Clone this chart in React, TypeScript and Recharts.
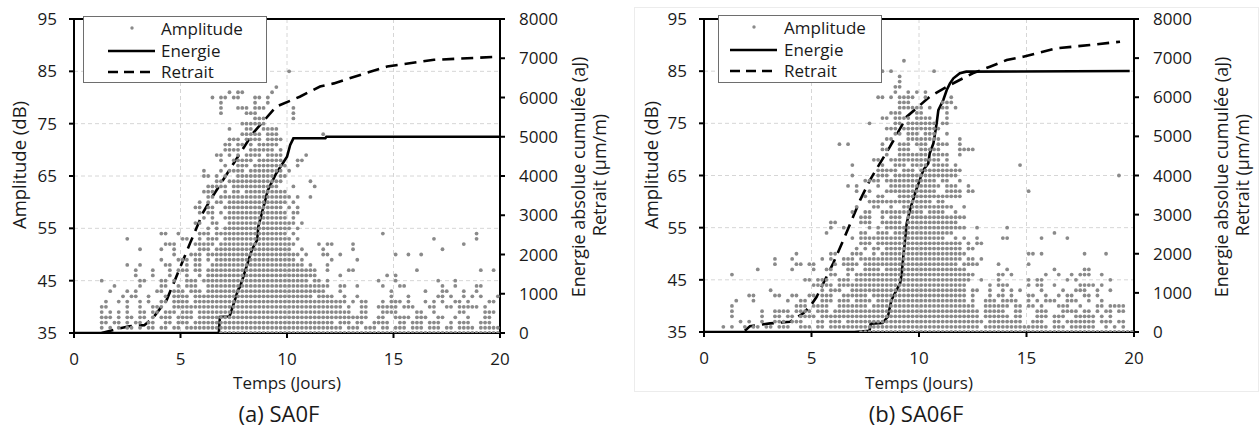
import React from "react";
import {
  ComposedChart,
  Scatter,
  Line,
  XAxis,
  YAxis,
  CartesianGrid,
  ReferenceLine,
} from "recharts";

const dayTicks = [0, 5, 10, 15, 20];
const ampTicks = [35, 45, 55, 65, 75, 85, 95];
const energyTicks = [0, 1000, 2000, 3000, 4000, 5000, 6000, 7000, 8000];

// amplitude hits, one row per dB level; columns are 0.2 day wide (col c -> t = 0.2c + 0.1)
const sa0fHits: [number, string][] = [
  [35, "34-99"],
  [36, "6 8 10 12-13 15 17-18 20-21 23-24 26-62 64-66 68-70 72-73 75-77 79-81 83-85 87-88 90-93 95-99"],
  [37, "6-7 9-10 12 14-15 17-18 21-22 24-26 28-60 62-64 66-67 70-73 76-77 79-81 83-85 88 90-92 95-97"],
  [38, "6-8 10 12-13 15-16 18 20-22 24-27 29-68 71-72 75-78 80-82 85-86 89 92 96-97"],
  [39, "6 8 10 12 15-16 18-19 21-23 25-27 29-64 67-68 72-75 80-81 84 90-91 96-98"],
  [40, "6-7 12 15 18-20 23-62 64 67-68 71-75 77-79 83-84 87-88 90-94 96"],
  [41, "7 10 12 15 17 20-21 23-26 28-63 65 67-68 72 74-76 78 82 84 86 89-90 92 97-98"],
  [42, "11 13-14 17 21 23-26 28-55 57-60 63 66 74 78 85-86 88 91 93 95 99"],
  [43, "8 12 14 19-20 23-25 27-29 31-58 62 74 82 86-87 91 94"],
  [44, "9 15 20-21 24 26-28 31-59 62-63 66 72 76-77 86 89 94-95"],
  [45, "6 15-16 20-21 23 26-28 30-54 56-57 59 71 75 85 89"],
  [46, "14 18 22 26 29 31-56 62 73 75"],
  [47, "14 18 22 24-26 28-29 31-56 59 64-65 80 95 98"],
  [48, "12 15 21-22 26 28-29 32-53 55 59"],
  [49, "20 24-26 28-29 31 33-51 53 60 66"],
  [50, "23 27-29 31-52 54 58-59 62 75 78 81"],
  [51, "15 20 23 29-31 33-50 53 58 65 86"],
  [52, "21-23 28-32 34-51 57 59-60 65 91"],
  [53, "12 25-26 29 31-33 35-50 52 84 94"],
  [54, "20-21 24 29-31 33-49 51 72 94"],
  [55, "31 33 35-50 52"],
  [56, "28-29 32-33 36-51 53"],
  [57, "30 32 35-49 51"],
  [58, "29 31-32 34 36-49 51-52"],
  [59, "28-29 31-32 35-48 50 52"],
  [60, "29 31 33-34 36-49 51"],
  [61, "31-32 34-50 52 55"],
  [62, "30-32 35 37-38 40-49"],
  [63, "31-35 37-47 51 56"],
  [64, "33-34 36-48 55"],
  [65, "30-31 33 35 38-46 48-49"],
  [66, "30 34 36-39 41-48 50"],
  [67, "35 38-40 42-49 52"],
  [68, "34 37-41 43-48 52-53"],
  [69, "33-34 36 38 40-43 45-48 54"],
  [70, "35-38 41-46 48"],
  [71, "35-36 38-39 41 43-47"],
  [72, "36-38 40-43 45-48"],
  [73, "39-43 45-47 58"],
  [74, "36 40-41 44-47"],
  [75, "39-44"],
  [76, "42-44 51"],
  [77, "34 40-42 51"],
  [78, "34 38-40 42-44 51"],
  [79, "34 42 45"],
  [80, "32 34-35 37-38 42-43 45"],
  [81, "36 38-39 46"],
  [82, "47"],
  [85, "50"],
];

const sa06fHits: [number, string][] = [
  [35, "36-99"],
  [36, "4 6 9 11-12 14-15 17-19 22-24 26-27 29-63 65-79 81-83 85-90 93 95 97"],
  [37, "8 10 13 16-18 20-22 26-27 29-31 33-64 66-71 72-73 76-78 81-82 84-90 92-94 96-97"],
  [38, "6 13 16-17 19-20 22-25 27-63 65-70 72-73 77-79 81-83 86-90 92 94"],
  [39, "6 13 16-19 21-24 26-28 30-63 65-69 72-73 77-79 83-86 88-89 91 93-94 96-97"],
  [40, "6 21-23 25-28 31-37 39-62 65-70 72-73 75-76 78 82-84 87 91-92 94-97"],
  [41, "7 11 19 22-23 27-29 31-33 35-38 40-60 62 65-67 69-72 75 77 79-81 84-86 89 92"],
  [42, "10-11 16-17 20-21 24-25 27-29 32-37 39-60 62 66 68-69 71 75-76 79 82 84-85 88-89 91"],
  [43, "15 27 29-31 34-60 62-63 66 69 71 73 78 83 86-88 91 94"],
  [44, "25-29 31-60 66 68-70 75 77-78 81 87-90 92"],
  [45, "23-24 26-28 31-33 35-61 64 68 75 77-78 84 86 94"],
  [46, "6 29-30 33 35-62 68-69 71 79 82 85 87-89 92"],
  [47, "12 20 25 28-29 33-34 37-40 42-60 70 81 88-89"],
  [48, "16 21-22 24-25 30 32-35 37-58 60-63 68 75"],
  [49, "16 20 27 29 32-34 36-59 61-62 64"],
  [50, "21 29-30 34-36 39 41-60 75-76 78 88 93"],
  [51, "35 37 39-40 42-59 61-62"],
  [52, "36-38 40-59 61 63-64"],
  [53, "34 36-55 58 60 63 69-70 78 84"],
  [54, "28 36-37 40-42 44-57 81"],
  [55, "29 32 38 40 42-60 63 70"],
  [56, "29-30 36-38 41-45 47-58"],
  [57, "36-38 41 43-45 47-60"],
  [58, "34 37-38 41-50 52-55 58"],
  [59, "35 39-40 43 46-57 60"],
  [60, "38-52 54-55"],
  [61, "37 40-41 45-59"],
  [62, "35 38 42-53 56-59 61-62 75"],
  [63, "33 35 40 43-54 56-58 61"],
  [64, "37-40 42-53 55-56 59"],
  [65, "34 40-42 44-58 96"],
  [66, "40-44 46-48 50-59"],
  [67, "34 41 44-46 48-51 53-56 58 73"],
  [68, "39-40 43-54 56"],
  [69, "42 45-51 53-56 59"],
  [70, "41-42 45-47 50-54 59-62"],
  [71, "31 33 41 45-47 49-51 54-56 59"],
  [72, "42-43 47-54 59"],
  [73, "44-45 47-49 51-53 56"],
  [74, "42-44 46-54"],
  [75, "38 44-45 47-53 55-56"],
  [76, "41-42 44-47 49-52 56"],
  [77, "43-45 49-50 56"],
  [78, "45-50 52 55-56 58"],
  [79, "45-47 55-57"],
  [80, "40-41 43 45-48 51 57"],
  [81, "44 47 49 51"],
  [82, "44-45"],
  [83, "45"],
  [84, "45"],
  [85, "40-41 43 53"],
  [87, "46"],
];

// cumulative energy (aJ) and shrinkage (µm/m), right axis
const sa0fEnergyDays = [0, 6.8, 6.85, 7.3, 7.5, 7.7, 7.8, 8.1, 8.35, 8.6, 8.65, 8.9, 9.1, 9.5, 10.0, 10.15, 10.3, 11.8, 11.85, 20];
const sa0fEnergy = [0, 0, 410, 420, 750, 1100, 1180, 1690, 2120, 2370, 2700, 3220, 3640, 4070, 4490, 4790, 4960, 4960, 5000, 5000];
const sa0fShrinkDays = [1.3, 2.0, 2.6, 3.3, 3.7, 4.35, 5.0, 5.45, 6.05, 6.4, 7.2, 8.4, 9.5, 10.6, 11.55, 12.2, 13.7, 14.7, 16.9, 20];
const sa0fShrink = [0, 100, 170, 200, 380, 840, 1690, 2290, 3060, 3390, 4070, 5090, 5770, 6020, 6280, 6360, 6620, 6790, 6960, 7040];

const sa06fEnergyDays = [0, 7.0, 7.7, 7.75, 8.3, 8.55, 8.72, 8.88, 9.12, 9.2, 9.27, 9.35, 9.43, 9.58, 9.85, 10.2, 10.43, 10.5, 10.67, 10.82, 10.9, 11.13, 11.29, 11.44, 11.6, 11.9, 12.2, 19.8];
const sa06fEnergy = [0, 0, 30, 210, 230, 390, 820, 990, 1245, 1500, 1925, 2350, 2780, 3120, 3600, 4140, 4310, 4570, 4820, 5330, 5670, 5930, 6185, 6356, 6484, 6612, 6654, 6670];
const sa06fShrinkDays = [1.9, 2.14, 3.07, 4.0, 4.62, 4.93, 5.24, 5.55, 6.01, 6.48, 6.94, 7.26, 7.72, 8.65, 9.43, 10.5, 11.29, 12.5, 13.3, 14.08, 14.85, 16.4, 17.95, 19.35];
const sa06fShrink = [30, 150, 220, 260, 480, 650, 900, 1245, 1756, 2350, 2950, 3370, 3885, 4737, 5503, 6015, 6271, 6612, 6781, 6952, 7036, 7251, 7335, 7420];

function decodeHits(rows: [number, string][]) {
  const pts: { t: number; db: number }[] = [];
  rows.forEach(([db, spec]) => {
    spec.split(" ").forEach((tok) => {
      const [a, b] = tok.split("-").map(Number);
      const end = b === undefined ? a : b;
      for (let c = a; c <= end; c++) pts.push({ t: +(c * 0.2 + 0.1).toFixed(2), db });
    });
  });
  return pts;
}

function toSeries(days: number[], vals: number[]) {
  return days.map((t, i) => ({ t, v: vals[i] }));
}

const FONT = "'Open Sans', sans-serif";
const tickStyle = { fontSize: 17, fill: "#1a1a1a", fontFamily: FONT };
const axisStyle = { stroke: "#000", strokeWidth: 2 };
const DOT = "#8a8a8a";

const dotShape = (p: any) => <circle cx={p.cx} cy={p.cy} r={1.9} fill={DOT} />;

function Legend({ left, top, width, height, symX, textX }: any) {
  const rows = ["Amplitude", "Energie", "Retrait"];
  return (
    <div
      style={{
        position: "absolute",
        left,
        top,
        width,
        height,
        border: "1.5px solid #6e6e6e",
        background: "#fff",
        boxSizing: "border-box",
        zIndex: 2,
      }}
    >
      <svg width={width} height={height} style={{ position: "absolute", left: 0, top: 0 }}>
        <circle cx={symX + 24} cy={11} r={1.7} fill={DOT} />
        <line x1={symX} x2={symX + 47} y1={34} y2={34} stroke="#000" strokeWidth={2.5} />
        <line x1={symX} x2={symX + 47} y1={55} y2={55} stroke="#000" strokeWidth={2.5} strokeDasharray="10 6" />
      </svg>
      {rows.map((r, i) => (
        <div
          key={r}
          style={{
            position: "absolute",
            left: textX,
            top: [1, 23, 44][i],
            fontSize: 17,
            fontFamily: FONT,
            color: "#1a1a1a",
            lineHeight: "22px",
          }}
        >
          {r}
        </div>
      ))}
    </div>
  );
}

function Rotated({ x, y, size, children }: any) {
  return (
    <div
      style={{
        position: "absolute",
        left: x,
        top: y,
        transform: "translate(-50%, -50%) rotate(-90deg)",
        whiteSpace: "nowrap",
        fontSize: size,
        fontFamily: FONT,
        color: "#1a1a1a",
        lineHeight: 1,
      }}
    >
      {children}
    </div>
  );
}

function Centered({ x, y, size, children }: any) {
  return (
    <div
      style={{
        position: "absolute",
        left: x,
        top: y,
        transform: "translate(-50%, -50%)",
        whiteSpace: "nowrap",
        fontSize: size,
        fontFamily: FONT,
        color: "#1a1a1a",
        lineHeight: 1,
      }}
    >
      {children}
    </div>
  );
}

function Panel({ offset, marginRight, marginBottom, hits, energy, shrink }: any) {
  return (
    <div style={{ position: "absolute", left: offset, top: 0 }}>
      <ComposedChart
        width={630}
        height={431}
        margin={{ top: 19, right: marginRight, bottom: marginBottom, left: 0 }}
      >
        <CartesianGrid xAxisId="d" yAxisId="amp" stroke="#d6d6d6" strokeDasharray="4 3" />
        <XAxis
          xAxisId="d"
          dataKey="t"
          type="number"
          domain={[0, 20]}
          ticks={dayTicks}
          allowDataOverflow
          height={30}
          tickSize={5}
          tickMargin={15}
          tick={tickStyle}
          axisLine={axisStyle}
          tickLine={axisStyle}
        />
        <YAxis
          yAxisId="amp"
          type="number"
          domain={[35, 95]}
          ticks={ampTicks}
          allowDataOverflow
          width={74}
          tickSize={5}
          tickMargin={12}
          tick={tickStyle}
          axisLine={axisStyle}
          tickLine={axisStyle}
        />
        <YAxis
          yAxisId="en"
          orientation="right"
          type="number"
          domain={[0, 8000]}
          ticks={energyTicks}
          allowDataOverflow
          width={60}
          tickSize={5}
          tickMargin={14}
          tick={tickStyle}
          axisLine={axisStyle}
          tickLine={axisStyle}
        />
        <Scatter
          xAxisId="d"
          yAxisId="amp"
          data={hits}
          dataKey="db"
          shape={dotShape}
          isAnimationActive={false}
        />
        <Line
          xAxisId="d"
          yAxisId="en"
          data={shrink}
          dataKey="v"
          type="linear"
          stroke="#000"
          strokeWidth={2.6}
          strokeDasharray="12 7"
          dot={false}
          activeDot={false}
          isAnimationActive={false}
        />
        <Line
          xAxisId="d"
          yAxisId="en"
          data={energy}
          dataKey="v"
          type="linear"
          stroke="#000"
          strokeWidth={2.6}
          dot={false}
          activeDot={false}
          isAnimationActive={false}
        />
        <ReferenceLine xAxisId="d" yAxisId="amp" y={95} stroke="#000" strokeWidth={2} />
      </ComposedChart>
    </div>
  );
}

export default function App() {
  const hitsA = decodeHits(sa0fHits);
  const hitsB = decodeHits(sa06fHits);
  return (
    <div
      style={{
        position: "absolute",
        left: 0,
        top: 0,
        width: 1260,
        height: 431,
        background: "#fff",
        overflow: "hidden",
      }}
    >
      <div
        style={{
          position: "absolute",
          left: 634,
          top: 7,
          width: 623,
          height: 383,
          border: "1px solid #ececec",
        }}
      />
      <Panel
        offset={0}
        marginRight={70}
        marginBottom={68}
        hits={hitsA}
        energy={toSeries(sa0fEnergyDays, sa0fEnergy)}
        shrink={toSeries(sa0fShrinkDays, sa0fShrink)}
      />
      <Panel
        offset={630}
        marginRight={66}
        marginBottom={69}
        hits={hitsB}
        energy={toSeries(sa06fEnergyDays, sa06fEnergy)}
        shrink={toSeries(sa06fShrinkDays, sa06fShrink)}
      />

      <Legend left={83} top={16} width={184} height={67} symX={24} textX={77} />
      <Legend left={718} top={15} width={164} height={68} symX={11} textX={65} />

      <Rotated x={19} y={165} size={18.5}>Amplitude (dB)</Rotated>
      <Rotated x={651} y={165} size={18.5}>Amplitude (dB)</Rotated>
      <Rotated x={578} y={177} size={18}>Energie absolue cumulée (aJ)</Rotated>
      <Rotated x={599} y={175} size={18}>Retrait (µm/m)</Rotated>
      <Rotated x={1221} y={177} size={18}>Energie absolue cumulée (aJ)</Rotated>
      <Rotated x={1242} y={175} size={18}>Retrait (µm/m)</Rotated>

      <Centered x={287} y={382} size={17}>Temps (Jours)</Centered>
      <Centered x={919} y={382} size={17}>Temps (Jours)</Centered>
      <Centered x={279} y={413} size={22}>(a) SA0F</Centered>
      <Centered x={916} y={413} size={22}>(b) SA06F</Centered>
    </div>
  );
}
